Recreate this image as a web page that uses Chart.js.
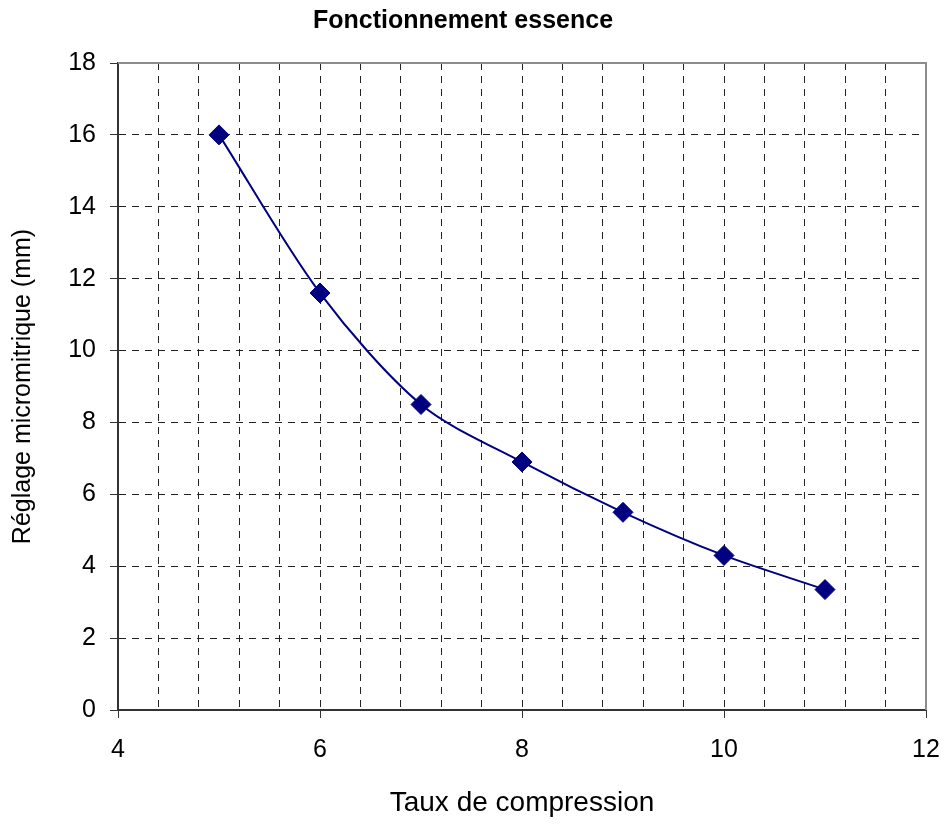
<!DOCTYPE html>
<html>
<head>
<meta charset="utf-8">
<script src="https://cdn.jsdelivr.net/npm/chart.js@4"></script>
<style>
  body { margin: 0; background: #fff; }
  #wrap { width: 946px; height: 825px; }
</style>
</head>
<body>
<div id="wrap"><canvas id="chart"></canvas></div>
<script>
const compression = [5, 6, 7, 8, 9, 10, 11];
const reglage = [16, 11.6, 8.5, 6.9, 5.5, 4.3, 3.35];
const xTicks = [4, 6, 8, 10, 12];
const yTicks = [0, 2, 4, 6, 8, 10, 12, 14, 16, 18];

const FONT = "'Liberation Sans', Arial, sans-serif";

function isMajor(v) {
  return xTicks.some((t) => Math.abs(t - v) < 1e-6);
}

// gray frame on top and right, like the Excel plot area
const frame = {
  id: "frame",
  afterDraw(c) {
    const a = c.chartArea;
    const ctx = c.ctx;
    ctx.save();
    ctx.strokeStyle = "#8c8c8c";
    ctx.lineWidth = 2;
    ctx.beginPath();
    ctx.moveTo(a.left, a.top);
    ctx.lineTo(a.right, a.top);
    ctx.lineTo(a.right, a.bottom);
    ctx.stroke();
    ctx.restore();
  },
};

const points = compression.map((x, i) => ({ x: x, y: reglage[i] }));

new Chart(document.getElementById("chart"), {
  type: "scatter",
  data: {
    datasets: [
      {
        data: points,
        showLine: true,
        borderColor: "#000080",
        backgroundColor: "#000080",
        borderWidth: 2,
        tension: 0.3,
        pointStyle: "rectRot",
        pointRadius: 10,
        pointHoverRadius: 10,
        pointBorderWidth: 1,
      },
    ],
  },
  options: {
    responsive: true,
    maintainAspectRatio: false,
    animation: false,
    layout: { padding: { top: 0, right: 20, bottom: 0, left: 0 } },
    plugins: {
      legend: { display: false },
      tooltip: { enabled: false },
      title: {
        display: true,
        text: "Fonctionnement essence",
        color: "#000",
        font: { family: FONT, size: 25, weight: "bold" },
        padding: { top: 6, bottom: 27 },
      },
    },
    scales: {
      x: {
        type: "linear",
        min: 4,
        max: 12,
        afterFit(scale) {
          scale.height = 115;
          scale.paddingLeft = 0;
          scale.paddingRight = 0;
        },
        ticks: {
          stepSize: 0.4,
          autoSkip: false,
          maxRotation: 0,
          padding: 17,
          color: "#000",
          font: { family: FONT, size: 25 },
          callback: (v) => (isMajor(v) ? String(Math.round(v)) : ""),
        },
        grid: {
          color: "#222",
          lineWidth: 1,
          tickLength: 8,
          tickColor: (ctx) =>
            ctx.tick && isMajor(ctx.tick.value) ? "#333" : "rgba(0,0,0,0)",
        },
        border: { color: "#333", width: 2, dash: [7, 6] },
        title: {
          display: true,
          text: "Taux de compression",
          color: "#000",
          font: { family: FONT, size: 28 },
          padding: { top: 0, bottom: 5 },
        },
      },
      y: {
        min: 0,
        max: 18,
        afterFit(scale) {
          scale.width = 118;
        },
        ticks: {
          stepSize: 2,
          padding: 14,
          color: "#000",
          font: { family: FONT, size: 25 },
          callback: (v) => (yTicks.includes(v) ? String(v) : ""),
        },
        grid: {
          color: "#222",
          lineWidth: 1,
          tickLength: 8,
          tickColor: "#333",
        },
        border: { color: "#333", width: 2, dash: [7, 6] },
        title: {
          display: true,
          text: "Réglage micromitrique (mm)",
          color: "#000",
          font: { family: FONT, size: 25 },
          padding: { top: 8, bottom: 0 },
        },
      },
    },
  },
  plugins: [frame],
});
</script>
</body>
</html>
